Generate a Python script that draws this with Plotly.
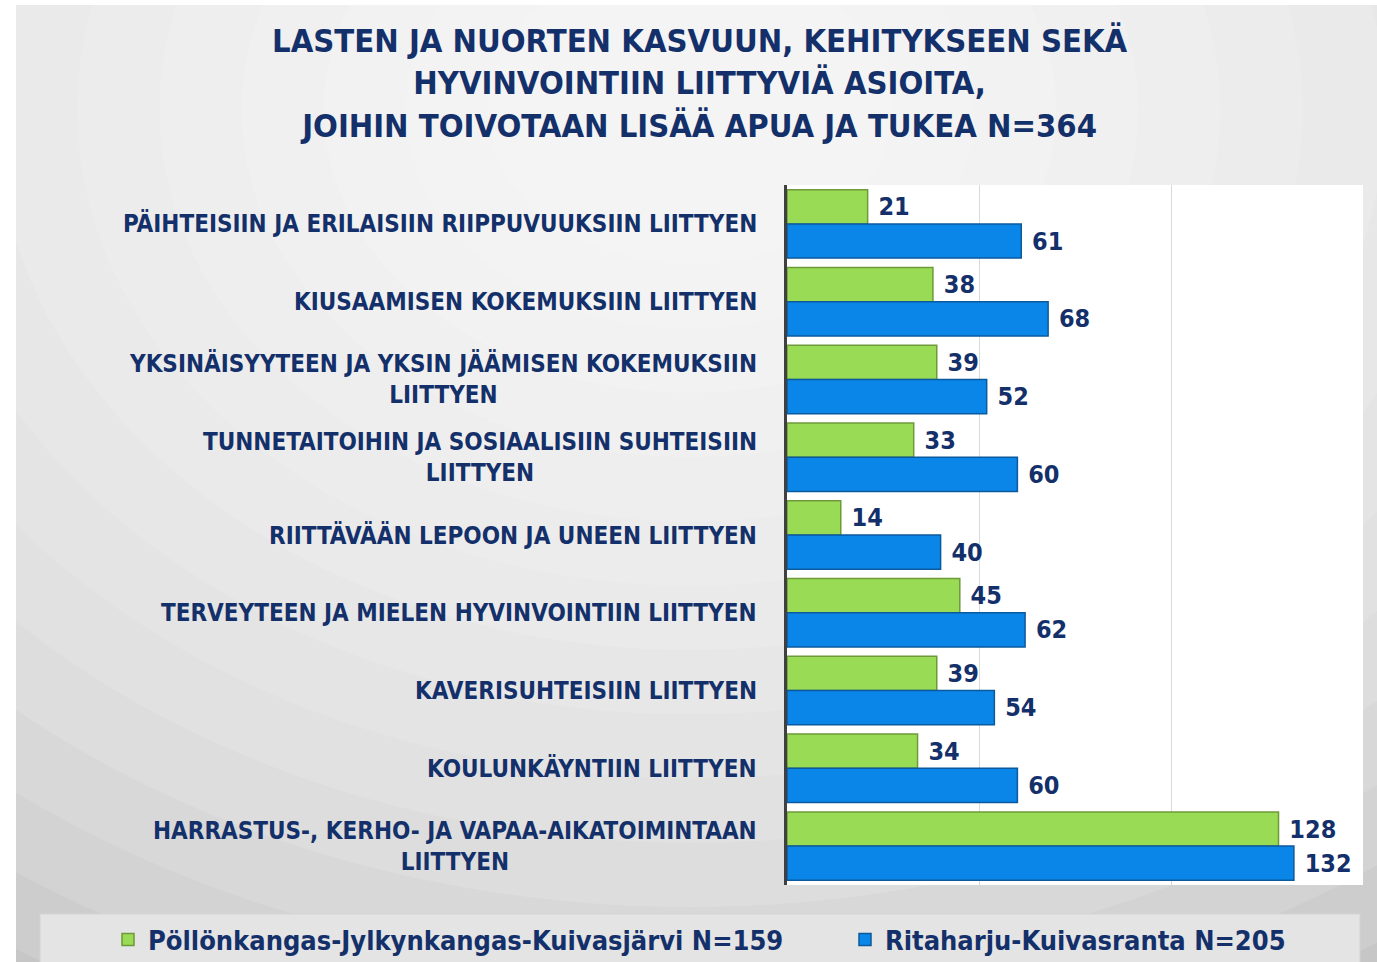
import plotly.graph_objects as go

categories = [
    "PÄIHTEISIIN JA ERILAISIIN RIIPPUVUUKSIIN LIITTYEN",
    "KIUSAAMISEN KOKEMUKSIIN LIITTYEN",
    "YKSINÄISYYTEEN JA YKSIN JÄÄMISEN KOKEMUKSIIN<br>LIITTYEN",
    "TUNNETAITOIHIN JA SOSIAALISIIN SUHTEISIIN<br>LIITTYEN",
    "RIITTÄVÄÄN LEPOON JA UNEEN LIITTYEN",
    "TERVEYTEEN JA MIELEN HYVINVOINTIIN LIITTYEN",
    "KAVERISUHTEISIIN LIITTYEN",
    "KOULUNKÄYNTIIN LIITTYEN",
    "HARRASTUS-, KERHO- JA VAPAA-AIKATOIMINTAAN<br>LIITTYEN",
]
pollonkangas = [21, 38, 39, 33, 14, 45, 39, 34, 128]
ritaharju = [61, 68, 52, 60, 40, 62, 54, 60, 132]
series_names = ["Pöllönkangas-Jylkynkangas-Kuivasjärvi N=159",
                "Ritaharju-Kuivasranta N=205"]
title_text = ("LASTEN JA NUORTEN KASVUUN, KEHITYKSEEN SEKÄ<br>"
              "HYVINVOINTIIN LIITTYVIÄ ASIOITA,<br>"
              "JOIHIN TOIVOTAAN LISÄÄ APUA JA TUKEA N=364")

NAVY = "#14306A"
FONT = "DejaVu Sans Condensed, Liberation Sans Narrow, Open Sans, sans-serif"

W, H = 1377, 962
L, R, T, B = 787, 1363, 185, 885


def px(x):
    return (x - L) / (R - L)


def py(y):
    return (B - y) / (B - T)


fig = go.Figure()
fig.add_trace(go.Bar(
    y=categories, x=pollonkangas, orientation="h", name=series_names[0],
    marker=dict(color="#9ADB55", line=dict(color="#6E9A3A", width=1.5)),
    text=pollonkangas, texttemplate="\u00a0%{x}", textposition="outside",
    cliponaxis=False, legend="legend",
    textfont=dict(family=FONT, size=25, color=NAVY, weight="bold"),
))
fig.add_trace(go.Bar(
    y=categories, x=ritaharju, orientation="h", name=series_names[1],
    marker=dict(color="#0A86E8", line=dict(color="#0B5A9E", width=1.5)),
    text=ritaharju, texttemplate="\u00a0%{x}", textposition="outside",
    cliponaxis=False, legend="legend2",
    textfont=dict(family=FONT, size=25, color=NAVY, weight="bold"),
))

shapes = []
# radial-ish gradient background
n = 14
cx, cy = 690, 110
for i in range(n):
    f = 1 - i / n
    rx = 120 + 1150 * f
    ry = 90 + 900 * f
    shapes.append(dict(type="circle", xref="paper", yref="paper",
                       x0=px(cx - rx), x1=px(cx + rx), y0=py(cy + ry), y1=py(cy - ry),
                       fillcolor="white", opacity=0.13, line=dict(width=0),
                       layer="below"))
# left white strip and top strip
shapes.append(dict(type="rect", xref="paper", yref="paper",
                   x0=px(-5), x1=px(16), y0=py(H + 5), y1=py(-5),
                   fillcolor="white", line=dict(width=0), layer="below"))
shapes.append(dict(type="rect", xref="paper", yref="paper",
                   x0=px(-5), x1=px(W + 5), y0=py(5), y1=py(-5),
                   fillcolor="white", line=dict(width=0), layer="below"))
# legend box
shapes.append(dict(type="rect", xref="paper", yref="paper",
                   x0=px(40), x1=px(1360), y0=py(H + 2), y1=py(914),
                   fillcolor="#E4E4E4", line=dict(color="#D4D4D4", width=1),
                   layer="below"))
# plot area white
shapes.append(dict(type="rect", xref="paper", yref="paper",
                   x0=0, x1=1, y0=0, y1=1,
                   fillcolor="white", line=dict(width=0), layer="below"))

annotations = []
for c in categories:
    annotations.append(dict(x=0, y=c, xref="paper", yref="y", text=c,
                            showarrow=False, xanchor="right", xshift=-28,
                            align="center",
                            font=dict(family=FONT, size=24, color=NAVY,
                                      weight="bold")))

annotations.append(dict(x=px(700), y=py(84), xref="paper", yref="paper",
                        text=title_text, showarrow=False, xanchor="center",
                        yanchor="middle", align="center",
                        font=dict(family=FONT, size=32.5, color=NAVY,
                                  weight="bold")))

legend_common = dict(orientation="h", yanchor="middle", y=py(940),
                     xanchor="left",
                     font=dict(family=FONT, size=27, color=NAVY, weight="bold"),
                     bgcolor="rgba(0,0,0,0)", itemwidth=30)

fig.update_layout(
    width=W, height=H,
    margin=dict(l=L, r=W - R, t=T, b=H - B, pad=0, autoexpand=False),
    paper_bgcolor="#C6C6C6",
    plot_bgcolor="rgba(0,0,0,0)",
    barmode="group", bargap=0.12, bargroupgap=0.0,
    font=dict(family=FONT, color=NAVY),
    shapes=shapes, annotations=annotations,
    showlegend=True,
    legend=dict(x=px(108), **legend_common),
    legend2=dict(x=px(845), **legend_common),
    xaxis=dict(range=[0, 150], showticklabels=False, showgrid=True,
               gridcolor="#D9D9D9", gridwidth=1, dtick=50, zeroline=False,
               showline=False, fixedrange=True),
    yaxis=dict(autorange="reversed", showticklabels=False, showline=True,
               linecolor="#404040", linewidth=2.5, ticks="", showgrid=False),
)

fig.write_html("out.html", config={"displayModeBar": False},
               post_script="document.body.style.margin='0px';")
